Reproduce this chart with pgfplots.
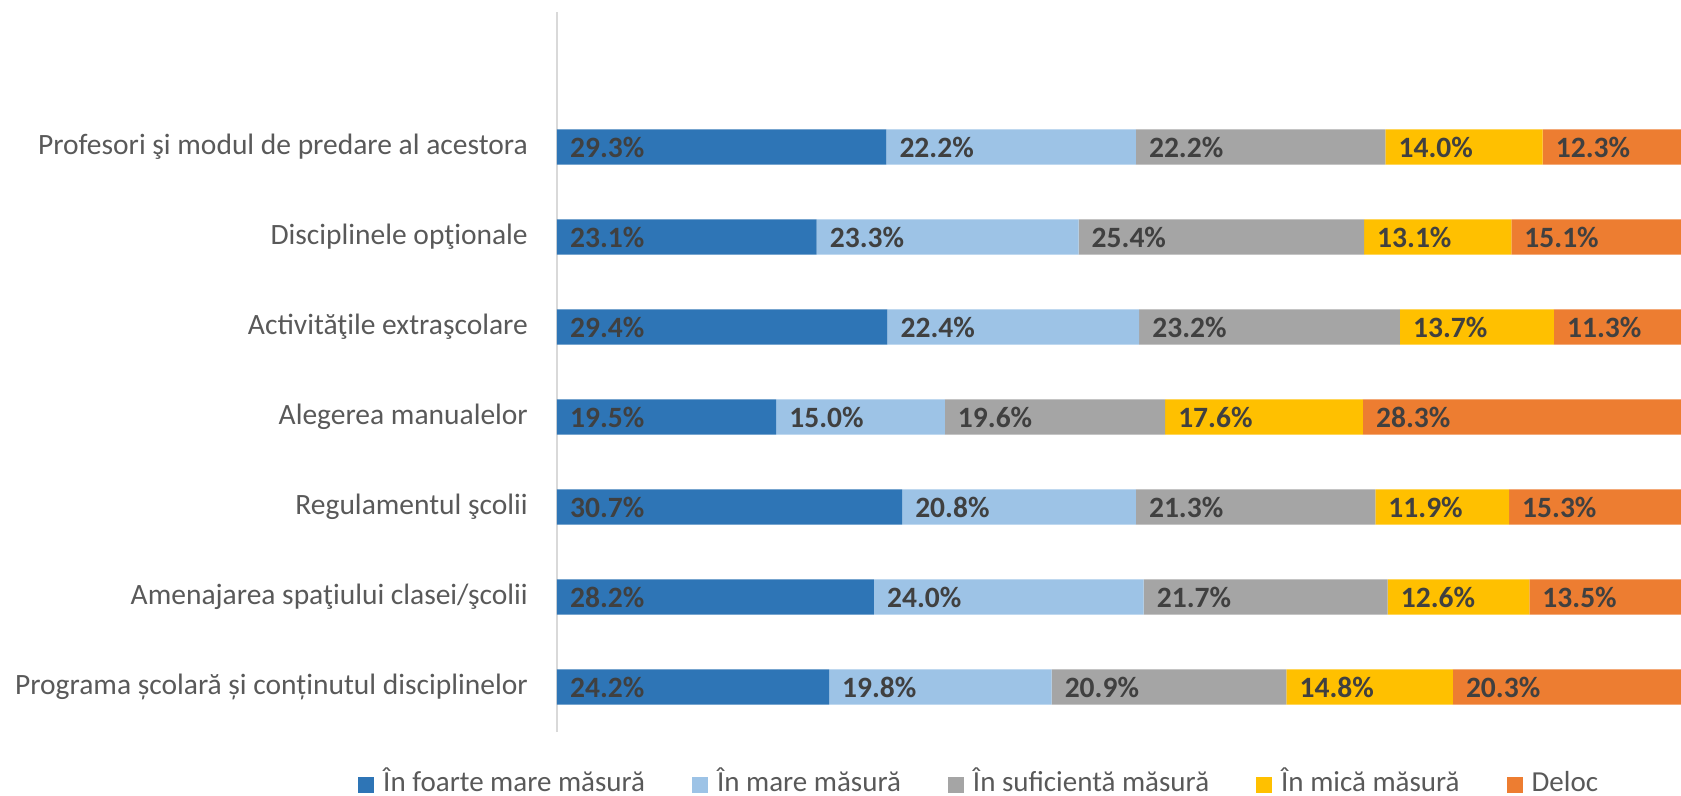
\documentclass[border=0pt]{standalone}
\usepackage{fontspec}
\setmainfont{Carlito}
\usepackage{pgfplots}
\usepackage{pgfplotstable}
\pgfplotsset{compat=1.18}
\definecolor{c1}{HTML}{2E75B6}
\definecolor{c2}{HTML}{9DC3E6}
\definecolor{c3}{HTML}{A5A5A5}
\definecolor{c4}{HTML}{FFC000}
\definecolor{c5}{HTML}{ED7D31}
\definecolor{labelc}{HTML}{404040}
\definecolor{catc}{HTML}{595959}
\definecolor{axisc}{HTML}{D9D9D9}
\newcommand\lblfont{\fontsize{29.5}{34}\selectfont\bfseries}
\newcommand\catfont{\fontsize{29.5}{34}\selectfont}
\newcommand\legfont{\fontsize{29}{34}\selectfont}
\pgfplotstableread{
y a b c d e
0 24.2 19.8 20.9 14.8 20.3
1 28.2 24.0 21.7 12.6 13.5
2 30.7 20.8 21.3 11.9 15.3
3 19.5 15.0 19.6 17.6 28.3
4 29.4 22.4 23.2 13.7 11.3
5 23.1 23.3 25.4 13.1 15.1
6 29.3 22.2 22.2 14.0 12.3
}\data
\pgfplotsset{
  frame/.style={
    at={(0pt,0pt)}, anchor=south west,
    scale only axis,
    width=1124pt, height=720pt,
    xmin=0, xmax=100,
    ymin=-0.5, ymax=7.5,
  },
  lbl/.style={
    draw=none, mark=none,
    nodes near coords={\pgfmathprintnumber[fixed,fixed zerofill,precision=1,assume math mode=true]{\pgfplotspointmeta}\%},
    point meta=explicit,
    every node near coord/.style={anchor=west, inner sep=0pt, xshift=13pt, font=\lblfont, text=labelc}
  }
}
\begin{document}
\begin{tikzpicture}
\begin{axis}[
  frame,
  xbar stacked,
  bar width=0.39,
  axis x line=none,
  axis y line*=left,
  y axis line style={draw=axisc, line width=1.5pt, -},
  xtick=\empty,
  ytick={0,1,2,3,4,5,6},
  yticklabels={Programa școlară și conținutul disciplinelor, Amenajarea spaţiului clasei/şcolii, Regulamentul şcolii, Alegerea manualelor, Activităţile extraşcolare, Disciplinele opţionale, Profesori şi modul de predare al acestora},
  ytick style={draw=none},
  yticklabel style={font=\catfont, text=catc, inner sep=0pt, xshift=-29pt},
  clip=false,
  legend columns=5,
  legend style={at={(-0.177,-0.0736)}, anchor=west, draw=none, fill=none, inner sep=0pt,
    font=\legfont, text=catc,
    nodes={inner sep=0pt, text height=14pt, text depth=0pt},
    /tikz/every odd column/.append style={column sep=9pt},
    /tikz/every even column/.append style={column sep=47pt}},
  legend image code/.code={\fill[#1] (0pt,-8pt) rectangle (16pt,8pt);},
]
\addplot[fill=c1, draw=none] table[x=a, y=y] {\data};
\addplot[fill=c2, draw=none] table[x=b, y=y] {\data};
\addplot[fill=c3, draw=none] table[x=c, y=y] {\data};
\addplot[fill=c4, draw=none] table[x=d, y=y] {\data};
\addplot[fill=c5, draw=none] table[x=e, y=y] {\data};
\legend{În foarte mare măsură, În mare măsură, În suficientă măsură, În mică măsură, Deloc}
\end{axis}
\begin{axis}[frame, hide axis, clip=false]
\addplot[lbl] table[x expr=0, y=y, meta=a] {\data};
\addplot[lbl] table[x expr=\thisrow{a}, y=y, meta=b] {\data};
\addplot[lbl] table[x expr=\thisrow{a}+\thisrow{b}, y=y, meta=c] {\data};
\addplot[lbl] table[x expr=\thisrow{a}+\thisrow{b}+\thisrow{c}, y=y, meta=d] {\data};
\addplot[lbl] table[x expr=\thisrow{a}+\thisrow{b}+\thisrow{c}+\thisrow{d}, y=y, meta=e] {\data};
\end{axis}
\pgfresetboundingbox
\path (-557pt,-63pt) rectangle (1124pt,732pt);
\end{tikzpicture}
\end{document}
